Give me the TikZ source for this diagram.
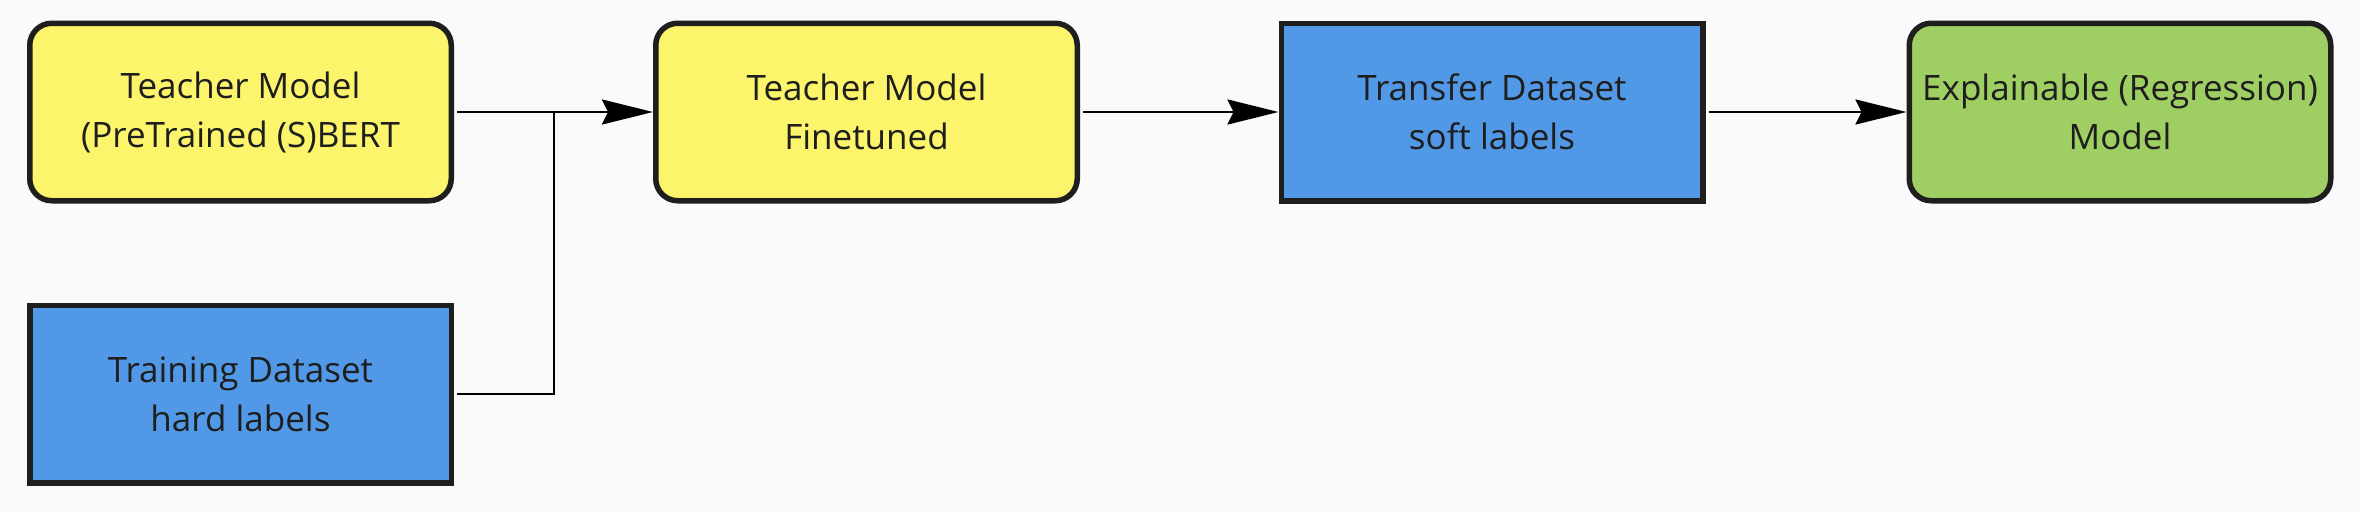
\documentclass[tikz,border=0pt]{standalone}
\usepackage{fontspec}
\setmainfont{Open Sans}
\usetikzlibrary{arrows.meta}
\definecolor{bgc}{HTML}{FAFAFA}
\definecolor{yel}{HTML}{FCF46B}
\definecolor{blu}{HTML}{5199E6}
\definecolor{grn}{HTML}{9FCF63}
\definecolor{edge}{HTML}{1E1E1E}
\tikzset{
  box/.style={draw=edge, line width=5.5pt, minimum width=421.5pt, minimum height=177.5pt,
    inner sep=0pt, outer sep=2.75pt, align=center, text=edge,
    font=\fontsize{35}{49}\selectfont},
  roundbox/.style={box, rounded corners=22pt, fill=yel},
  databox/.style={box, fill=blu},
  modelbox/.style={box, rounded corners=22pt, fill=grn},
  conn/.style={draw=black, line width=2.5pt, shorten <=3pt},
  arrowconn/.style={conn, -{Stealth[length=51pt, width=25pt, inset=6pt]}}
}
\begin{document}
\begin{tikzpicture}[x=1pt, y=-1pt]
\fill[bgc] (0,0) rectangle (2360,512);
\useasboundingbox (0,0) rectangle (2360,512);
\node[roundbox] (t1) at (240.5,112) {Teacher Model\\(PreTrained (S)BERT};
\node[databox] (train) at (240.5,394) {Training Dataset\\hard labels};
\node[roundbox] (t2) at (866.5,112) {Teacher Model\\Finetuned};
\node[databox] (transfer) at (1492,112) {Transfer Dataset\\soft labels};
\node[modelbox] (expl) at (2120,112) {Explainable (Regression)\\Model};
\coordinate (j) at (554,112);
\draw[arrowconn] (t1.east) -- (t2.west);
\draw[conn] (train.east) -| (j);
\draw[arrowconn] (t2.east) -- (transfer.west);
\draw[arrowconn] (transfer.east) -- (expl.west);
\end{tikzpicture}
\end{document}
